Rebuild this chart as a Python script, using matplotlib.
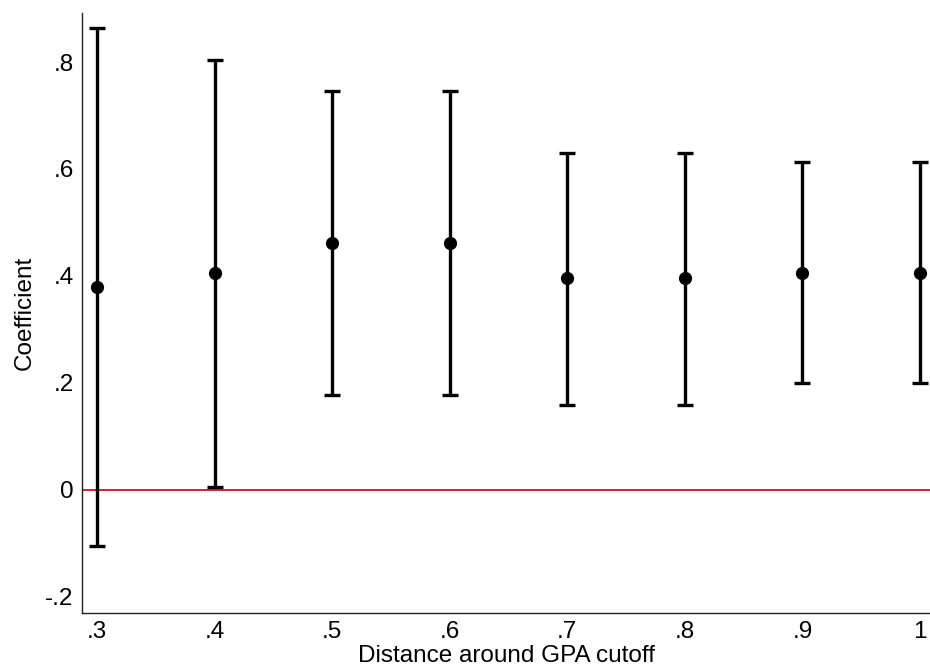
import matplotlib
matplotlib.use("Agg")
import matplotlib.pyplot as plt

plt.rcParams['font.family'] = ['Liberation Sans', 'DejaVu Sans']

distance = [0.3, 0.4, 0.5, 0.6, 0.7, 0.8, 0.9, 1.0]
coef = [0.379, 0.406, 0.462, 0.462, 0.396, 0.396, 0.406, 0.406]
ci_low = [-0.105, 0.006, 0.178, 0.178, 0.159, 0.159, 0.200, 0.200]
ci_high = [0.864, 0.804, 0.746, 0.746, 0.630, 0.630, 0.613, 0.613]
xtick_vals = [0.3, 0.4, 0.5, 0.6, 0.7, 0.8, 0.9, 1.0]
xtick_labels = ['.3', '.4', '.5', '.6', '.7', '.8', '.9', '1']
ytick_vals = [-0.2, 0.0, 0.2, 0.4, 0.6, 0.8]
ytick_labels = ['-.2', '0', '.2', '.4', '.6', '.8']

fig = plt.figure(figsize=(9.3, 6.71), dpi=100)
ax = fig.add_axes([82/930, 1-613/671, 1-82/930, (613-13)/671])

yerr = [[c - l for c, l in zip(coef, ci_low)], [h - c for c, h in zip(coef, ci_high)]]
ax.axhline(0, color='#c8102e', lw=1.3, zorder=1)
ax.errorbar(distance, coef, yerr=yerr, fmt='o', color='black', ms=8.5,
            elinewidth=2.4, capsize=5.5, capthick=2.4, zorder=3)

ax.set_xlim(0.2872, 1.0085)
ax.set_ylim(-0.23, 0.8916)
ax.set_xticks(xtick_vals)
ax.set_xticklabels(xtick_labels)
ax.set_yticks(ytick_vals)
ax.set_yticklabels(ytick_labels)
ax.tick_params(axis='both', length=0, labelsize=17.5)
ax.tick_params(axis='y', pad=6)
ax.tick_params(axis='x', pad=6)
for s in ['top', 'right']:
    ax.spines[s].set_visible(False)
for s in ['left', 'bottom']:
    ax.spines[s].set_linewidth(1.0)
    ax.spines[s].set_color('#222222')

ax.set_xlabel('Distance around GPA cutoff', fontsize=17.5, labelpad=1)
ax.set_ylabel('Coefficient', fontsize=17.5, labelpad=7)

fig.savefig('out.png', dpi=100)
